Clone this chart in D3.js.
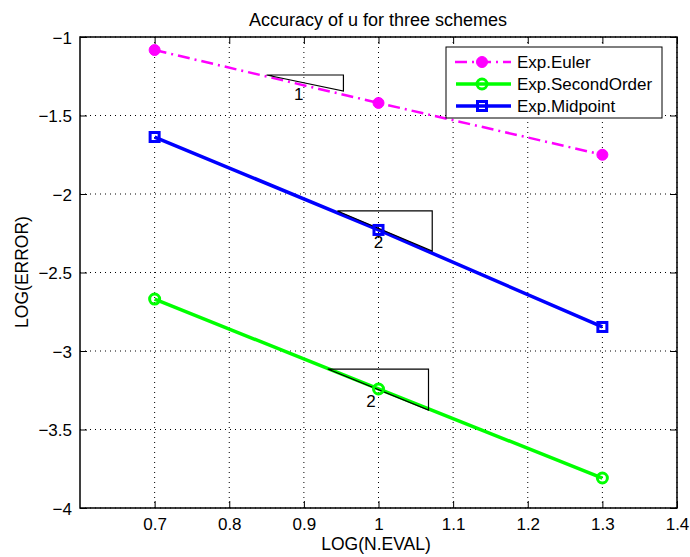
<!DOCTYPE html>
<html><head><meta charset="utf-8">
<script src="https://cdn.jsdelivr.net/npm/d3@7"></script>
<style>body{margin:0;background:#fff}svg{display:block}text{font-family:"Liberation Sans",Arial,sans-serif;fill:#000}</style>
</head><body>
<svg id="c" width="690" height="557"></svg>
<script>
const xValues = [0.7, 1.0, 1.3];
const eulerValues = [-1.083, -1.42, -1.75];
const secondOrderValues = [-2.669, -3.242, -3.809];
const midpointValues = [-1.637, -2.229, -2.847];
const xTicks = [0.7, 0.8, 0.9, 1.0, 1.1, 1.2, 1.3, 1.4];
const yTicks = [-4, -3.5, -3, -2.5, -2, -1.5, -1];
const xTickLabels = ["0.7","0.8","0.9","1","1.1","1.2","1.3","1.4"];
const yTickLabels = ["−4","−3.5","−3","−2.5","−2","−1.5","−1"];
const seriesNames = ["Exp.Euler", "Exp.SecondOrder", "Exp.Midpoint"];
// slope triangles
const triX0 = [0.85, 0.945, 0.932];
const triX1 = [0.953, 1.072, 1.067];
const triYTop = [-1.242, -2.108, -3.115];
const triYBottom = [-1.344, -2.363, -3.376];
const triLabels = ["1", "2", "2"];
const triLabelX = [0.893, 1.0, 0.99];

const svg = d3.select("#c");
const L = 80, R = 677, T = 37, B = 508;
const x = d3.scaleLinear().domain([0.6, 1.4]).range([L, R]);
const y = d3.scaleLinear().domain([-4, -1]).range([B, T]);

svg.append("rect").attr("width",690).attr("height",557).attr("fill","#fff");

// grid
const g = svg.append("g");
g.selectAll(".vg").data(xTicks).enter().append("line")
  .attr("x1",d=>x(d)).attr("x2",d=>x(d)).attr("y1",T).attr("y2",B)
  .attr("stroke","#000").attr("stroke-width",1).attr("stroke-dasharray","1,4");
g.selectAll(".hg").data(yTicks).enter().append("line")
  .attr("y1",d=>y(d)).attr("y2",d=>y(d)).attr("x1",L).attr("x2",R)
  .attr("stroke","#000").attr("stroke-width",1).attr("stroke-dasharray","1,4");

// axes
const tick = 7;
const xAxisB = d3.axisBottom(x).tickValues(xTicks).tickFormat((d,i)=>xTickLabels[i]).tickSizeInner(-tick).tickSizeOuter(0).tickPadding(10);
const xAxisT = d3.axisTop(x).tickValues(xTicks).tickFormat("").tickSizeInner(-tick).tickSizeOuter(0);
const yAxisL = d3.axisLeft(y).tickValues(yTicks).tickFormat((d,i)=>yTickLabels[i]).tickSizeInner(-tick).tickSizeOuter(0).tickPadding(8);
const yAxisR = d3.axisRight(y).tickValues(yTicks).tickFormat("").tickSizeInner(-tick).tickSizeOuter(0);
function styleAxis(sel){
  sel.select(".domain").remove();
  sel.selectAll(".tick line").attr("stroke","#000").attr("stroke-width",1);
  sel.selectAll(".tick text").attr("font-size",17).attr("font-family","Liberation Sans, Arial, sans-serif").attr("fill","#000");
}
svg.append("g").attr("transform",`translate(0,${B})`).call(xAxisB).call(styleAxis);
svg.append("g").attr("transform",`translate(0,${T})`).call(xAxisT).call(styleAxis);
svg.append("g").attr("transform",`translate(${L},0)`).call(yAxisL).call(styleAxis)
  .selectAll(".tick text").attr("dy","0.38em");
svg.append("g").attr("transform",`translate(${R},0)`).call(yAxisR).call(styleAxis);

svg.append("rect").attr("x",L).attr("y",T).attr("width",R-L).attr("height",B-T)
  .attr("fill","none").attr("stroke","#000").attr("stroke-width",1.5);

// series
const line = d3.line().x(d=>x(d[0])).y(d=>y(d[1]));
const eulerData = xValues.map((v,i)=>[v, eulerValues[i]]);
const secondData = xValues.map((v,i)=>[v, secondOrderValues[i]]);
const midData = xValues.map((v,i)=>[v, midpointValues[i]]);

svg.append("path").datum(eulerData).attr("d",line).attr("fill","none")
  .attr("stroke","#ff00ff").attr("stroke-width",2.5).attr("stroke-dasharray","12,5,2,5");
svg.append("path").datum(secondData).attr("d",line).attr("fill","none")
  .attr("stroke","#00ff00").attr("stroke-width",3.5);
svg.append("path").datum(midData).attr("d",line).attr("fill","none")
  .attr("stroke","#0000ff").attr("stroke-width",3.5);

// triangles
triX0.forEach((x0,i)=>{
  const pts = [[x0, triYTop[i]],[triX1[i], triYTop[i]],[triX1[i], triYBottom[i]]];
  svg.append("path").attr("d", d3.line().x(d=>x(d[0])).y(d=>y(d[1]))(pts) + "Z")
    .attr("fill","none").attr("stroke","#000").attr("stroke-width",1.2);
  svg.append("text").attr("x", x(triLabelX[i])).attr("y", y((triYTop[i]+triYBottom[i])/2) + 17)
    .attr("text-anchor","middle").attr("font-size",17).text(triLabels[i]);
});

// markers
function circleMarkers(data, color, filled){
  svg.selectAll(null).data(data).enter().append("circle")
    .attr("cx",d=>x(d[0])).attr("cy",d=>y(d[1])).attr("r", filled?5.5:5)
    .attr("fill", filled?color:"none").attr("stroke",color).attr("stroke-width", filled?1:3);
}
circleMarkers(eulerData, "#ff00ff", true);
circleMarkers(secondData, "#00ff00", false);
svg.selectAll(null).data(midData).enter().append("rect")
  .attr("x",d=>x(d[0])-4.5).attr("y",d=>y(d[1])-4.5).attr("width",9).attr("height",9)
  .attr("fill","none").attr("stroke","#0000ff").attr("stroke-width",3);

// legend
const lg = svg.append("g");
lg.append("rect").attr("x",446).attr("y",47).attr("width",216).attr("height",71)
  .attr("fill","#fff").attr("stroke","#000").attr("stroke-width",1);
const legColors = ["#ff00ff","#00ff00","#0000ff"];
const legY = [62, 84, 106];
seriesNames.forEach((name,i)=>{
  const ly = legY[i];
  const ln = lg.append("line").attr("x1",456).attr("x2",511).attr("y1",ly).attr("y2",ly)
    .attr("stroke",legColors[i]).attr("stroke-width", i===0?2.5:3.5);
  if(i===0) ln.attr("stroke-dasharray","12,5,2,5").attr("x1",455);
  if(i===0) lg.append("circle").attr("cx",482).attr("cy",ly).attr("r",5.5).attr("fill",legColors[i]).attr("stroke",legColors[i]);
  if(i===1) lg.append("circle").attr("cx",482).attr("cy",ly).attr("r",5).attr("fill","none").attr("stroke",legColors[i]).attr("stroke-width",3);
  if(i===2) lg.append("rect").attr("x",477.5).attr("y",ly-4.5).attr("width",9).attr("height",9).attr("fill","none").attr("stroke",legColors[i]).attr("stroke-width",3);
  lg.append("text").attr("x",517).attr("y",ly+6).attr("font-size",17).text(name);
});

// title & labels
svg.append("text").attr("x",378).attr("y",26).attr("text-anchor","middle").attr("font-size",18)
  .text("Accuracy of u for three schemes");
svg.append("text").attr("x",376).attr("y",550).attr("text-anchor","middle").attr("font-size",17.5)
  .text("LOG(N.EVAL)");
svg.append("text").attr("transform","translate(28,272) rotate(-90)").attr("text-anchor","middle").attr("font-size",17.5)
  .text("LOG(ERROR)");
</script>
</body></html>
